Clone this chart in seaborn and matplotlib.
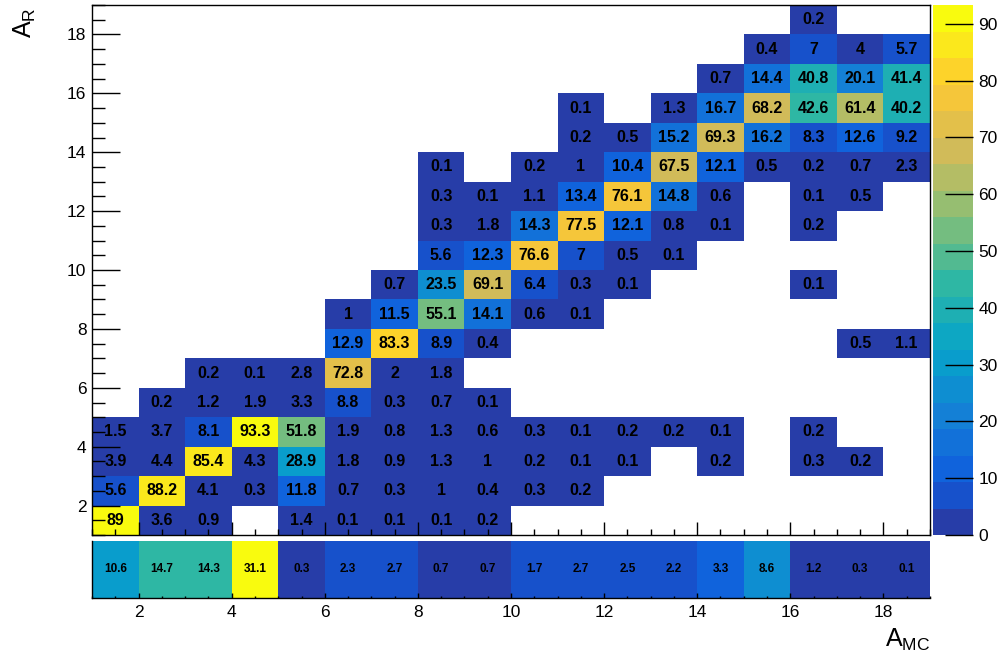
import numpy as np
import pandas as pd
import matplotlib
matplotlib.use("Agg")
import matplotlib.pyplot as plt
import seaborn as sns
from matplotlib.colors import ListedColormap
from matplotlib.ticker import MultipleLocator, FixedLocator

N = np.nan

# ---------------- data ----------------
a_mc_bins = list(range(1, 19))          # lower edges of A_MC bins (1..18), width 1
a_r_bins = list(range(1, 19))           # lower edges of A_R bins (1..18), width 1
x_tick_values = [2, 4, 6, 8, 10, 12, 14, 16, 18]
y_tick_values = [2, 4, 6, 8, 10, 12, 14, 16, 18]
z_tick_values = [0, 10, 20, 30, 40, 50, 60, 70, 80, 90]

# rows: A_R bin 1-2 (bottom) ... 18-19 (top); columns: A_MC bin 1-2 ... 18-19
r01 = [89, 3.6, 0.9, N, 1.4, 0.1, 0.1, 0.1, 0.2, N, N, N, N, N, N, N, N, N]
r02 = [5.6, 88.2, 4.1, 0.3, 11.8, 0.7, 0.3, 1, 0.4, 0.3, 0.2, N, N, N, N, N, N, N]
r03 = [3.9, 4.4, 85.4, 4.3, 28.9, 1.8, 0.9, 1.3, 1, 0.2, 0.1, 0.1, N, 0.2, N, 0.3, 0.2, N]
r04 = [1.5, 3.7, 8.1, 93.3, 51.8, 1.9, 0.8, 1.3, 0.6, 0.3, 0.1, 0.2, 0.2, 0.1, N, 0.2, N, N]
r05 = [N, 0.2, 1.2, 1.9, 3.3, 8.8, 0.3, 0.7, 0.1, N, N, N, N, N, N, N, N, N]
r06 = [N, N, 0.2, 0.1, 2.8, 72.8, 2, 1.8, N, N, N, N, N, N, N, N, N, N]
r07 = [N, N, N, N, N, 12.9, 83.3, 8.9, 0.4, N, N, N, N, N, N, N, 0.5, 1.1]
r08 = [N, N, N, N, N, 1, 11.5, 55.1, 14.1, 0.6, 0.1, N, N, N, N, N, N, N]
r09 = [N, N, N, N, N, N, 0.7, 23.5, 69.1, 6.4, 0.3, 0.1, N, N, N, 0.1, N, N]
r10 = [N, N, N, N, N, N, N, 5.6, 12.3, 76.6, 7, 0.5, 0.1, N, N, N, N, N]
r11 = [N, N, N, N, N, N, N, 0.3, 1.8, 14.3, 77.5, 12.1, 0.8, 0.1, N, 0.2, N, N]
r12 = [N, N, N, N, N, N, N, 0.3, 0.1, 1.1, 13.4, 76.1, 14.8, 0.6, N, 0.1, 0.5, N]
r13 = [N, N, N, N, N, N, N, 0.1, N, 0.2, 1, 10.4, 67.5, 12.1, 0.5, 0.2, 0.7, 2.3]
r14 = [N, N, N, N, N, N, N, N, N, N, 0.2, 0.5, 15.2, 69.3, 16.2, 8.3, 12.6, 9.2]
r15 = [N, N, N, N, N, N, N, N, N, N, 0.1, N, 1.3, 16.7, 68.2, 42.6, 61.4, 40.2]
r16 = [N, N, N, N, N, N, N, N, N, N, N, N, N, 0.7, 14.4, 40.8, 20.1, 41.4]
r17 = [N, N, N, N, N, N, N, N, N, N, N, N, N, N, 0.4, 7, 4, 5.7]
r18 = [N, N, N, N, N, N, N, N, N, N, N, N, N, N, N, 0.2, N, N]

# projection strip (one row, per A_MC bin)
proj_values = [10.6, 14.7, 14.3, 31.1, 0.3, 2.3, 2.7, 0.7, 0.7,
               1.7, 2.7, 2.5, 2.2, 3.3, 8.6, 1.2, 0.3, 0.1]

# ---------------- ROOT kBird palette, 20 contour levels ----------------
stops = [0.0, 0.125, 0.25, 0.375, 0.5, 0.625, 0.75, 0.875, 1.0]
red = [0.2082, 0.0592, 0.0780, 0.0232, 0.1802, 0.5301, 0.8186, 0.9956, 0.9764]
green = [0.1664, 0.3599, 0.5041, 0.6419, 0.7178, 0.7492, 0.7328, 0.7862, 0.9832]
blue = [0.5293, 0.8684, 0.8385, 0.7914, 0.6425, 0.4662, 0.3499, 0.1968, 0.0539]
n_levels = 20
cols = []
for i in range(n_levels):
    idx = int((i + 0.99) * 255 / n_levels)
    p = min(idx / 254.0, 1.0)
    cols.append((np.interp(p, stops, red), np.interp(p, stops, green), np.interp(p, stops, blue)))
bird = ListedColormap(cols)

# ---------------- build frames ----------------
rows = [r01, r02, r03, r04, r05, r06, r07, r08, r09, r10, r11, r12, r13, r14, r15, r16, r17, r18]
mat = pd.DataFrame(rows, index=a_r_bins, columns=a_mc_bins, dtype=float)
annot_main = mat.map(lambda v: "" if np.isnan(v) else f"{v:g}")
proj = pd.DataFrame([proj_values], columns=a_mc_bins, dtype=float)
annot_proj = proj.map(lambda v: f"{v:g}")

FONT = "Liberation Sans"
plt.rcParams["font.family"] = [FONT, "DejaVu Sans"]
plt.rcParams["mathtext.fontset"] = "custom"
plt.rcParams["mathtext.rm"] = FONT
plt.rcParams["mathtext.it"] = FONT

fig = plt.figure(figsize=(10.01, 6.59), dpi=100)
W, H = 1001.0, 659.0
ax = fig.add_axes([92 / W, 1 - 535 / H, (930 - 92) / W, (535 - 5) / H])
cax = fig.add_axes([933 / W, 1 - 535 / H, (973 - 933) / W, (535 - 5) / H])
sax = fig.add_axes([92 / W, 1 - 598 / H, (930 - 92) / W, (598 - 541) / H])

zmax = float(np.nanmax(mat.values))
sns.heatmap(mat, ax=ax, cmap=bird, vmin=0, vmax=zmax, mask=mat.isna(),
            annot=annot_main, fmt="", cbar_ax=cax, linewidths=0,
            xticklabels=False, yticklabels=False,
            annot_kws=dict(color="black", fontsize=11.5, fontweight="bold", family=FONT))
ax.set_xlim(0, len(a_mc_bins))
ax.set_ylim(0, len(a_r_bins))
x0 = a_mc_bins[0]
y0 = a_r_bins[0]
ax.xaxis.set_major_locator(FixedLocator([v - x0 for v in x_tick_values]))
ax.xaxis.set_minor_locator(MultipleLocator(0.5))
ax.yaxis.set_major_locator(FixedLocator([v - y0 for v in y_tick_values]))
ax.yaxis.set_minor_locator(MultipleLocator(0.5))
ax.set_yticklabels([str(v) for v in y_tick_values])
ax.tick_params(axis="y", which="major", direction="in", length=20, width=1, left=True,
               labelleft=True, labelsize=12.5, pad=4, colors="black")
ax.tick_params(axis="y", which="minor", direction="in", length=9.5, width=1, left=True)
ax.tick_params(axis="x", which="major", direction="in", length=9.5, width=1, bottom=True, labelbottom=False)
ax.tick_params(axis="x", which="minor", direction="in", length=4.5, width=1, bottom=True)
for s in ax.spines.values():
    s.set_visible(True)
    s.set_color("black")
    s.set_linewidth(1.0)
ax.set_xlabel("")
ax.set_ylabel(r"$\mathregular{A_R}$", fontsize=18, loc="top")
ax.yaxis.set_label_coords(-0.064, 0.995)

cbar = ax.collections[0].colorbar
cbar.set_ticks(z_tick_values)
cbar.ax.tick_params(direction="in", length=20, width=1, labelsize=12.5, pad=4, colors="black")
cbar.ax.minorticks_off()
cbar.outline.set_visible(False)

sns.heatmap(proj, ax=sax, cmap=bird, vmin=0, vmax=float(max(proj_values)),
            annot=annot_proj, fmt="", cbar=False, linewidths=0,
            xticklabels=False, yticklabels=False,
            annot_kws=dict(color="black", fontsize=8.5, fontweight="bold", family=FONT))
sax.set_xlim(0, len(a_mc_bins))
sax.xaxis.set_major_locator(FixedLocator([v - x0 for v in x_tick_values]))
sax.xaxis.set_minor_locator(MultipleLocator(0.5))
sax.set_xticklabels([str(v) for v in x_tick_values])
sax.tick_params(axis="x", which="major", direction="in", length=3.6, width=1, bottom=True,
                labelbottom=True, labelsize=12.5, pad=5, colors="black")
sax.tick_params(axis="x", which="minor", direction="in", length=1.8, width=1, bottom=True)
sax.tick_params(axis="y", left=False, labelleft=False)
sax.spines["bottom"].set_visible(True)
sax.spines["left"].set_visible(True)
sax.spines["bottom"].set_linewidth(1.0)
sax.spines["left"].set_linewidth(1.0)
sax.set_ylabel("")
sax.set_xlabel(r"$\mathregular{A_{MC}}$", fontsize=18, loc="right")
sax.xaxis.set_label_coords(1.0, -0.5)

fig.savefig("out.png", dpi=100)
